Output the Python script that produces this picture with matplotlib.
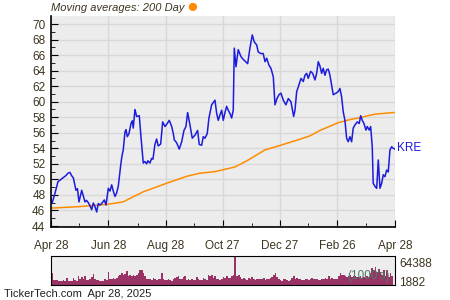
import numpy as np
from matplotlib import pyplot as plt

plt.rcParams['font.family'] = ['Liberation Sans', 'DejaVu Sans']

# days since Apr 28, 2024 and KRE closing price
price_days = [0, 1.1, 4.2, 7.4, 9.5, 12.7, 15.9, 18.0, 20.2, 21.8, 23.7, 26.5, 28.1, 29.7,
              32.6, 34.0, 36.1, 37.7, 39.6, 41.4, 43.2, 44.9, 46.7, 48.5, 50.2, 52.0, 53.8,
              56.6, 58.4, 60.8, 62.6, 64.4, 66.1, 67.9, 69.5, 71.4, 74.0, 75.3, 76.7, 78.5,
              79.6, 81.0, 82.8, 84.9, 86.3, 87.3, 89.1, 90.9, 93.7, 95.2, 97.9, 99.7, 101.5,
              102.9, 105.0, 106.8, 108.2, 110.3, 112.1, 113.8, 116.4, 118.5, 121.0, 123.4,
              125.5, 128.1, 129.8, 130.8, 133.4, 136.1, 138.7, 141.1, 143.2, 145.0, 147.5,
              149.9, 152.8, 155.6, 157.3, 159.9, 161.6, 163.4, 165.8, 167.6, 170.5, 174.0,
              175.8, 177.5, 179.3, 181.1, 182.8, 184.6, 186.4, 188.1, 189.9, 191.7, 193.4,
              194.5, 196.3, 198.7, 201.6, 204.0, 206.6, 208.7, 211.1, 213.6, 215.7, 218.3,
              219.9, 222.8, 225.2, 227.1, 228.9, 231.3, 233.4, 235.9, 237.7, 239.8, 241.9,
              244.0, 246.5, 249.3, 251.8, 254.6, 257.5, 258.9, 260.7, 262.4, 265.3, 267.7,
              269.5, 271.3, 273.0, 275.5, 277.7, 280.1, 281.9, 283.6, 285.4, 287.2, 288.9,
              290.7, 292.5, 294.2, 296.0, 297.8, 299.5, 302.4, 304.8, 306.6, 308.4, 310.1,
              311.9, 313.7, 315.4, 317.2, 319.0, 320.7, 322.5, 325.0, 327.1, 328.6, 330.3,
              332.1, 334.2, 335.6, 337.7, 339.2, 340.9, 341.9, 343.8, 345.6, 347.3, 349.1,
              350.9, 352.6, 354.4, 356.2, 357.9, 359.7, 361.5, 363.2, 365]
prices = [47.5, 46.9, 48.2, 49.7, 49.9, 50.2, 50.5, 50.8, 50.9, 50.5, 50.2, 48.6, 48.8, 47.1,
          48.6, 48.0, 47.1, 47.3, 47.0, 46.6, 46.1, 46.96, 46.5, 45.8, 46.9, 46.7, 46.9,
          47.35, 46.7, 48.85, 48.5, 49.3, 48.5, 47.8, 48.2, 49.1, 51.85, 53.0, 53.8, 56.1,
          56.4, 55.5, 55.9, 57.2, 57.55, 56.6, 59.0, 58.1, 58.2, 55.9, 52.1, 52.3, 52.0,
          52.4, 52.1, 52.7, 52.6, 54.5, 55.2, 54.3, 54.55, 57.4, 56.8, 57.2,
          57.6, 56.8, 55.9, 55.1, 54.7, 53.9, 54.85, 56.3, 56.8, 58.6, 57.0,
          55.3, 55.7, 56.3, 54.5, 54.4, 55.5, 55.3, 55.9, 57.9, 59.6, 60.2,
          58.5, 57.6, 58.3, 58.9, 57.6, 58.6, 59.4, 58.9, 58.5, 57.9, 58.9,
          66.9, 64.5, 66.7, 65.8, 65.45, 65.15, 64.9, 66.9, 68.6, 67.7, 67.3,
          66.4, 66.2, 66.2, 65.15, 65.6, 64.7, 64.3, 63.2, 59.6, 60.4, 60.9,
          61.1, 60.2, 59.6, 60.4, 60.0, 58.1, 58.9, 61.3, 61.9, 63.0, 62.6,
          63.4, 63.65, 63.0, 63.9, 63.65, 62.8, 63.65, 65.15, 64.6, 63.65, 64.3,
          63.4, 64.1, 64.2, 63.4, 62.15, 60.9, 61.1, 61.3, 61.7, 60.6, 58.7,
          57.6, 55.3, 54.85, 55.5, 54.85, 56.6, 57.0, 57.4, 57.2, 58.2, 57.6,
          57.2, 56.35, 56.8, 56.35, 56.8, 54.2, 49.5, 49.1, 48.85, 52.5, 48.85,
          49.5, 50.6, 50.35, 51.2, 50.95, 53.8, 54.2, 54.0, 53.9]

# 200 day moving average
ma_days = [0, 30.8, 60.5, 76.4, 97.9, 122.7, 144.0, 158.1, 174.0, 184.6, 195.3, 209.4,
           227.1, 241.2, 262.4, 274.8, 285.4, 304.8, 317.2, 326.0, 343.8, 363.2, 365]
ma_values = [46.3, 46.5, 46.8, 47.1, 48.4, 49.5, 50.4, 50.8, 51.0, 51.3, 51.6, 52.5,
             53.8, 54.3, 55.1, 55.6, 56.3, 57.3, 57.7, 57.9, 58.4, 58.6, 58.6]

# volume in 1000's
volume = [28100, 11100, 11100, 11100, 8900, 8900, 8900, 11100, 8900, 16300, 8900, 8900, 8900,
          16300, 11100, 8900, 20700, 13300, 18500, 13300, 20700, 11100, 11100, 13300, 18500,
          25900, 13300, 11100, 11100, 8900, 8900, 8900, 13300, 11100, 29600, 13300, 14800,
          16300, 14800, 16300, 20700, 23700, 28100, 23700, 25900, 31100, 20700, 22200, 20700,
          23700, 20700, 22200, 28100, 34000, 33300, 28100, 20700, 14800, 13300, 14800, 11100,
          16300, 13300, 11100, 13300, 14800, 28100, 13300, 11100, 11100, 13300, 11100, 8900,
          13300, 16300, 18500, 20700, 13300, 14800, 18500, 20700, 11100, 13300, 11100, 13300,
          11100, 11100, 18500, 13300, 11100, 11100, 16300, 13300, 11100, 23700, 20700, 22200,
          16300, 20700, 14800, 13300, 11100,
          13300, 18500, 16300, 20700, 16300, 16300, 20700, 22200, 64388, 20700, 23700, 18500,
          14800, 16300, 13300, 11100, 16300, 13300, 18500, 14800, 11100, 13300, 14800, 13300,
          13300, 16300, 11100, 14800, 13300, 16300, 18500, 22200, 28100, 18500, 13300, 11100,
          8900, 13300, 14800, 11100, 8900, 11100, 16300, 20700, 13300, 16300, 14800, 13300,
          11100, 11100, 13300, 14800, 11100, 13300, 16300, 13300, 13300, 14800, 11100, 11100,
          13300, 14800, 16300, 14800, 20700, 14800, 16300, 13300, 14800, 14800, 20700, 28100,
          22200, 23700, 20700, 18500, 20700, 22200, 18500, 20700, 20700, 18500, 18500, 20700,
          16300, 18500, 16300, 20700, 18500, 28100, 38500, 33300, 40700, 29600, 37000, 29600,
          22200, 33300, 20700, 33300, 18500, 28100, 20700]

tick_days = [0, 61, 122, 182, 243, 304, 365]
tick_labels = ['Apr 28', 'Jun 28', 'Aug 28', 'Oct 27', 'Dec 27', 'Feb 26', 'Apr 28']

text_color = '#3d3520'
fig = plt.figure(figsize=(4.5, 3), dpi=100)

# main price chart
ax = fig.add_axes([0.1133, 0.2433, 0.7644, 0.7033])
ax.set_facecolor('#ececec')
ax.plot(ma_days, ma_values, color='#ff8c00', lw=1.1)
ax.plot(price_days, prices, color='#1c1cdc', lw=1.1)
ax.set_xlim(0, 365)
ax.set_ylim(43.87, 71.03)
ax.set_yticks(np.arange(44, 71, 2))
ax.set_yticks(np.arange(45, 71, 2), minor=True)
ax.set_xticks(tick_days)
ax.set_xticklabels(tick_labels)
ax.set_xticks([30, 92, 152, 213, 273, 334], minor=True)
ax.grid(True, which='major', color='#d8d8d8', lw=1)
ax.tick_params(which='both', direction='in', colors='black', labelcolor=text_color,
               labelsize=8.5, pad=4)
ax.tick_params(axis='x', pad=9)
ax.tick_params(which='major', length=5)
ax.tick_params(which='minor', length=3)
for s in ['top', 'right']:
    ax.spines[s].set_visible(False)
ax.spines['left'].set_linewidth(1.2)
ax.spines['bottom'].set_linewidth(1.2)
ax.text(1.005, (54.0 - 43.87) / (71.03 - 43.87), 'KRE', transform=ax.transAxes,
        color='#1c1cdc', fontsize=8.5, va='center', ha='left')

# volume panel
vx = np.linspace(0.9, 362, len(volume))
vax = fig.add_axes([0.1133, 0.049, 0.7644, 0.0967])
vax.set_facecolor('#ededed')
vax.bar(vx, volume, width=vx[1] - vx[0], color='#993366', linewidth=0)
vax.set_xlim(0, 365)
vax.set_ylim(0, 64388)
vax.set_xticks([])
vax.yaxis.tick_right()
vax.set_yticks([0.124 * 64388, 0.78 * 64388])
vax.set_yticklabels(['1882', '64388'])
vax.tick_params(axis='y', length=0, labelcolor=text_color, labelsize=8.5, pad=3)
vax.text(0.985, 0.12, "(1000's)", transform=vax.transAxes, ha='right', va='bottom',
         color='#4e7a68', fontsize=8.5)

fig.text(0.113, 0.973, 'Moving averages: 200 Day', style='italic', color=text_color,
         fontsize=8, va='center', ha='left')
fig.text(0.428, 0.975, '\u25cf', color='#ff8c00', fontsize=14, va='center', ha='center')
fig.text(0.01, 0.02, 'TickerTech.com  Apr 28, 2025', color='#222222', fontsize=8,
         va='center', ha='left')

plt.savefig('out.png', dpi=100)
